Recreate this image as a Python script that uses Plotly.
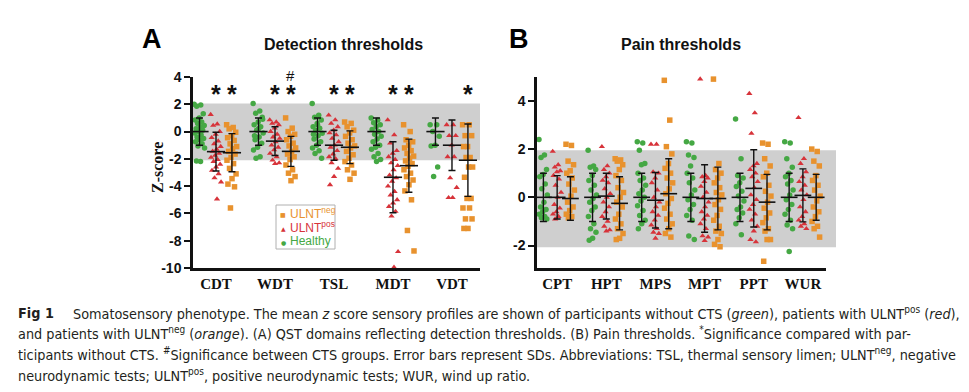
import plotly.graph_objects as go

# ---------------- DATA ----------------
cats_a = ["CDT", "WDT", "TSL", "MDT", "VDT"]
cats_b = ["CPT", "HPT", "MPS", "MPT", "PPT", "WUR"]

# Panel A (detection thresholds) z-scores per group
a_healthy = {
    "CDT": [2.0, 1.95, 1.85, 1.3, 1.0, 0.85, 0.7, 0.6, 0.45, 0.35, 0.2, 0.1, 0.0, -0.1, -0.25, -0.4, -0.5, -0.6, -0.75, -0.9, -1.05, -1.2, -2.2, -2.15],
    "WDT": [2.05, 1.5, 1.35, 1.05, 0.7, 0.5, 0.35, 0.1, -0.1, -0.4, -0.6, -0.85, -1.15, -1.35, -1.85, -1.95, 0.9, 0.2, -0.3],
    "TSL": [2.05, 1.2, 1.05, 0.85, 0.6, 0.35, 0.25, 0.07, -0.12, -0.3, -0.55, -0.75, -1.0, -1.2, -1.4, -1.6, -1.95, 0.5, -0.2],
    "MDT": [1.0, 0.85, 0.65, 0.5, 0.35, 0.15, 0.0, -0.2, -0.35, -0.55, -0.75, -1.0, -1.15, -1.3, -1.6, -1.85, -2.05, -2.2],
    "VDT": [0.5, 0.5, 0.0, -0.35, -1.0, -1.05, -2.6, -3.3],
}
a_pos = {
    "CDT": [1.25, 0.55, 0.45, 0.0, -0.2, -0.45, -0.7, -0.9, -1.1, -1.3, -1.45, -1.6, -1.75, -1.9, -2.05, -2.2, -2.4, -2.6, -2.85, -3.1, -3.4, -3.7, -4.95],
    "WDT": [0.85, 0.7, 0.6, 0.5, 0.25, 0.0, -0.2, -0.4, -0.5, -0.75, -1.0, -1.15, -1.35, -1.6, -1.85, -2.1, -2.3, -2.35],
    "TSL": [1.2, 0.85, 0.6, 0.35, 0.1, -0.1, -0.25, -0.5, -0.75, -1.0, -1.15, -1.4, -1.65, -1.85, -2.0, -2.3, -2.7, -3.3, -3.9],
    "MDT": [0.85, -0.25, -0.85, -1.4, -1.6, -1.85, -2.05, -2.3, -2.5, -2.8, -3.2, -3.4, -3.65, -4.0, -4.4, -4.65, -5.0, -5.25, -5.5, -5.85, -6.2, -8.8, -9.95],
    "VDT": [0.5, 0.5, -0.3, -0.3, -1.0, -1.85, -1.85, -3.4, -4.1, -4.85, -4.85],
}
a_neg = {
    "CDT": [0.5, 0.3, 0.2, -0.05, -0.3, -0.45, -0.65, -0.9, -1.1, -1.25, -1.45, -1.65, -1.9, -2.1, -2.35, -2.7, -3.1, -3.45, -3.85, -4.05, -5.6],
    "WDT": [1.0, 0.25, 0.0, -0.2, -0.35, -0.6, -0.85, -1.05, -1.2, -1.45, -1.65, -1.85, -2.05, -2.45, -2.8, -3.05, -3.3, -3.6],
    "TSL": [0.7, 0.6, 0.35, 0.1, -0.1, -0.35, -0.6, -0.85, -1.05, -1.2, -1.45, -1.7, -1.95, -2.2, -2.45, -2.8, -3.05, -3.5],
    "MDT": [0.5, 0.0, -0.6, -0.75, -1.0, -1.2, -1.4, -1.6, -1.8, -1.95, -2.15, -2.35, -2.55, -2.8, -3.05, -3.3, -3.55, -3.9, -4.35, -5.0, -7.25, -8.75],
    "VDT": [0.5, 0.5, -0.3, -0.3, -1.1, -1.1, -1.9, -1.9, -2.6, -2.6, -3.35, -4.9, -4.9, -5.6, -5.6, -6.4, -6.4, -7.1, -7.1],
}
# group means and SDs
a_mean = {"healthy": [0, 0, 0, 0, 0], "pos": [-1.47, -0.7, -1.0, -3.35, -1.0], "neg": [-1.55, -1.45, -1.15, -2.5, -2.1]}
a_sd = {"healthy": [1, 1, 1, 1, 1], "pos": [1.42, 1.05, 1.1, 2.6, 1.85], "neg": [1.4, 1.1, 1.2, 1.95, 2.65]}

# Panel B (pain thresholds)
b_healthy = {
    "CPT": [2.4, 1.75, 1.65, 1.15, 0.95, 0.85, 0.55, 0.35, 0.1, -0.2, -0.4, -0.5, -0.6, -0.7, -0.8, -0.85, -0.9],
    "HPT": [1.95, 1.3, 1.25, 1.15, 0.9, 0.7, 0.5, 0.3, 0.1, -0.05, -0.2, -0.4, -0.55, -0.8, -1.1, -1.3, -1.45, -1.7, -1.78],
    "MPS": [2.3, 2.25, 1.95, 1.4, 1.35, 1.0, 0.8, 0.7, 0.5, 0.3, 0.15, 0.0, -0.15, -0.35, -0.55, -0.75, -0.95, -1.1, -1.3],
    "MPT": [2.3, 2.25, 1.75, 1.65, 1.3, 1.0, 0.8, 0.6, 0.3, 0.1, -0.1, -0.3, -0.5, -0.75, -0.95, -1.6, -1.75],
    "PPT": [3.25, 1.6, 0.9, 0.8, 0.6, 0.45, 0.25, 0.05, -0.15, -0.4, -0.5, -0.65, -0.85, -1.1, -1.55],
    "WUR": [2.3, 2.25, 1.6, 1.25, 1.0, 0.85, 0.7, 0.55, 0.3, 0.1, -0.1, -0.3, -0.5, -0.7, -0.95, -1.15, -1.3, -2.25],
}
b_pos = {
    "CPT": [1.9, 1.35, 1.25, 1.1, 1.05, 0.9, 0.75, 0.5, 0.2, 0.0, -0.3, -0.45, -0.6, -0.7, -0.8, -0.9],
    "HPT": [2.1, 1.3, 1.15, 1.0, 0.85, 0.7, 0.6, 0.35, 0.15, 0.0, -0.2, -0.4, -0.6, -0.8, -1.0, -1.2, -1.35, -1.4],
    "MPS": [2.2, 2.2, 1.05, 1.0, 0.8, 0.6, 0.3, 0.0, -0.2, -0.4, -0.6, -0.75, -0.95, -1.15, -1.3, -1.45, -1.5, -1.7],
    "MPT": [4.9, 0.9, 0.85, 0.8, 0.65, 0.45, 0.2, 0.0, -0.2, -0.4, -0.6, -0.75, -0.9, -1.1, -1.3, -1.6, -1.65, -1.8],
    "PPT": [4.3, 3.5, 2.65, 1.4, 1.3, 1.15, 1.0, 0.85, 0.65, 0.4, 0.1, -0.1, -0.3, -0.5, -0.7, -0.95, -1.2, -1.4, -1.75, -1.85],
    "WUR": [3.3, 1.6, 1.4, 1.05, 0.85, 0.65, 0.5, 0.3, 0.1, -0.1, -0.4, -0.6, -0.8, -0.95, -1.1, -1.2, -1.3],
}
b_neg = {
    "CPT": [2.2, 2.15, 1.5, 1.35, 1.1, 1.0, 0.8, 0.55, 0.3, 0.05, -0.2, -0.4, -0.55, -0.7, -0.8, -0.85],
    "HPT": [1.6, 1.55, 1.5, 1.35, 1.15, 0.9, 0.7, 0.4, 0.2, 0.0, -0.2, -0.4, -0.7, -0.9, -1.1, -1.3, -1.5, -1.7, -1.75],
    "MPS": [4.85, 3.2, 2.1, 1.8, 1.4, 1.2, 1.0, 0.8, 0.6, 0.35, 0.15, -0.05, -0.25, -0.45, -0.7, -0.9, -1.1, -1.3, -1.5, -1.65],
    "MPT": [4.9, 1.4, 1.15, 1.0, 0.8, 0.6, 0.4, 0.2, 0.1, -0.1, -0.3, -0.5, -0.75, -0.95, -1.2, -1.4, -1.5, -1.75, -1.95, -2.05],
    "PPT": [2.25, 2.2, 1.6, 1.3, 1.0, 0.85, 0.5, 0.25, 0.05, -0.2, -0.45, -0.65, -0.85, -1.05, -1.3, -1.4, -1.75, -1.75, -2.65],
    "WUR": [2.0, 1.9, 1.5, 1.3, 0.9, 0.7, 0.5, 0.3, 0.05, -0.15, -0.4, -0.6, -0.8, -1.0, -1.2, -1.3, -1.65],
}
b_mean = {"healthy": [0, 0, 0, 0, 0, 0], "pos": [0.0, 0.05, -0.12, -0.05, 0.37, 0.08], "neg": [-0.05, -0.25, 0.15, -0.05, -0.2, 0.0]}
b_sd = {"healthy": [1, 1, 1, 1, 1, 1], "pos": [0.9, 0.95, 1.15, 1.4, 1.6, 1.1], "neg": [0.9, 1.1, 1.45, 1.3, 1.15, 0.95]}

# significance markers: (category, group, symbol)
sig_a = [("CDT", "pos", "*"), ("CDT", "neg", "*"), ("WDT", "pos", "*"), ("WDT", "neg", "*"),
         ("TSL", "pos", "*"), ("TSL", "neg", "*"), ("MDT", "pos", "*"), ("MDT", "neg", "*"),
         ("VDT", "neg", "*")]
hash_a = [("WDT", "neg", "#")]

# ---------------- STYLE ----------------
GREEN, RED, ORANGE = "#45a844", "#d7333a", "#e8922e"
colors = {"healthy": GREEN, "pos": RED, "neg": ORANGE}
symbols = {"healthy": "circle", "pos": "triangle-up", "neg": "square"}
offset = {"healthy": -0.28, "pos": 0.0, "neg": 0.27}
W, H = 969, 392

def jitter(n, amp):
    return [amp * (((i * 0.618034) % 1.0) * 2 - 1) for i in range(n)]

fig = go.Figure()

def add_panel(cats, groups, means, sds, xa, ya, amp, msize, mean_size):
    for g, data in groups:
        xs, ys = [], []
        for ci, c in enumerate(cats):
            vals = data[c]
            js = jitter(len(vals), amp)
            xs += [ci + offset[g] + j for j in js]
            ys += vals
        fig.add_trace(go.Scatter(x=xs, y=ys, mode="markers", xaxis=xa, yaxis=ya,
                                 marker=dict(symbol=symbols[g], color=colors[g], size=msize, line=dict(width=0)),
                                 showlegend=False, cliponaxis=False, hoverinfo="skip"))
    for g, _ in groups:
        fig.add_trace(go.Scatter(
            x=[ci + offset[g] for ci in range(len(cats))], y=means[g], mode="markers",
            xaxis=xa, yaxis=ya, showlegend=False, hoverinfo="skip", cliponaxis=False,
            marker=dict(symbol="line-ew", size=mean_size, line=dict(width=1.6, color="#111")),
            error_y=dict(type="data", array=sds[g], visible=True, color="#111", thickness=1.4, width=3.5)))

add_panel(cats_a, [("healthy", a_healthy), ("pos", a_pos), ("neg", a_neg)], a_mean, a_sd, "x", "y", 0.09, 5.5, 13)
add_panel(cats_b, [("healthy", b_healthy), ("pos", b_pos), ("neg", b_neg)], b_mean, b_sd, "x2", "y2", 0.09, 5.5, 12)

def pa(px, py, text, font, **kw):
    d = dict(x=px / W, y=1 - py / H, xref="paper", yref="paper", text=text, showarrow=False,
             xanchor="center", yanchor="middle", font=font)
    d.update(kw)
    return d

ann = []
for c, g, s in sig_a:
    ann.append(dict(x=cats_a.index(c) + offset[g], y=3.0, xref="x", yref="y", text="<b>%s</b>" % s, showarrow=False,
                    xanchor="center", yanchor="middle",
                    font=dict(family="Arial, Liberation Sans", size=25, color="#111"), yshift=-3))
for c, g, s in hash_a:
    ann.append(dict(x=cats_a.index(c) + offset[g], y=4.0, xref="x", yref="y", text=s, showarrow=False,
                    xanchor="center", yanchor="middle", yshift=1,
                    font=dict(family="Arial, Liberation Sans", size=15, color="#111")))

# panel titles
ann += [
    pa(152, 39, "<b>A</b>", dict(family="Arial, Liberation Sans", size=27, color="#000")),
    pa(343, 44, "<b>Detection thresholds</b>", dict(family="Arial, Liberation Sans", size=16, color="#111")),
    pa(519, 39, "<b>B</b>", dict(family="Arial, Liberation Sans", size=27, color="#000")),
    pa(681, 44, "<b>Pain thresholds</b>", dict(family="Arial, Liberation Sans", size=16, color="#111")),
    pa(157, 168, "<b>Z-score</b>", dict(family="Liberation Serif, Times New Roman", size=16, color="#111"), textangle=-90),
]

# legend box (panel A)
legend_rows = [("■", "ULNT<sup>neg</sup>", ORANGE, 213), ("▲", "ULNT<sup>pos</sup>", RED, 227), ("●", "Healthy", GREEN, 241)]
for glyph, label, col, py in legend_rows:
    ann.append(pa(283, py + 1, glyph, dict(size=6, color=col, family="DejaVu Sans")))
    ann.append(pa(288, py, label, dict(size=12, color=col, family="Arial, Liberation Sans"), xanchor="left"))

# caption
cap_font = dict(family="Liberation Sans Narrow, Arial Narrow, DejaVu Sans Condensed, sans-serif", size=14.3, color="#231f20")
cap_lines = [
    (71, 313, "Somatosensory phenotype. The mean <i>z</i> score sensory profiles are shown of participants without CTS (<i>green</i>), patients with ULNT<sup>pos</sup> (<i>red</i>),"),
    (16, 333, "and patients with ULNT<sup>neg</sup> (<i>orange</i>). (A) QST domains reflecting detection thresholds. (B) Pain thresholds. <sup>*</sup>Significance compared with par-"),
    (16, 354, "ticipants without CTS. <sup>#</sup>Significance between CTS groups. Error bars represent SDs. Abbreviations: TSL, thermal sensory limen; ULNT<sup>neg</sup>, negative"),
    (16, 375, "neurodynamic tests; ULNT<sup>pos</sup>, positive neurodynamic tests; WUR, wind up ratio."),
]
ann.append(pa(16, 313, "<b>Fig 1</b>", cap_font, xanchor="left"))
for px, py, t in cap_lines:
    ann.append(pa(px, py, t, cap_font, xanchor="left"))

shapes = [
    dict(type="rect", xref="paper", yref="y", x0=193 / W, x1=480 / W, y0=-2.1, y1=2.05,
         fillcolor="#cfcfcf", line=dict(width=0), layer="below"),
    dict(type="rect", xref="paper", yref="y2", x0=537 / W, x1=836 / W, y0=-2.07, y1=1.95,
         fillcolor="#cfcfcf", line=dict(width=0), layer="below"),
    dict(type="rect", xref="paper", yref="paper", x0=276 / W, x1=335 / W, y0=1 - 249 / H, y1=1 - 205 / H,
         fillcolor="white", line=dict(width=1, color="#b0b0b0"), layer="above"),
]

tickfont_y = dict(family="Arial, Liberation Sans", size=14, color="#111")
tickfont_x = dict(family="Liberation Serif, Times New Roman", size=15, color="#111")
axis_common = dict(showline=True, linecolor="#111", linewidth=2.5, showgrid=False, zeroline=False, automargin=False)

fig.update_layout(
    width=W, height=H, margin=dict(l=0, r=0, t=0, b=0),
    paper_bgcolor="white", plot_bgcolor="rgba(0,0,0,0)",
    showlegend=False,
    xaxis=dict(domain=[193 / W, 480 / W], range=[-0.39, 4.475], tickvals=list(range(5)),
               ticktext=["<b>%s</b>" % c for c in cats_a], ticks="", tickfont=tickfont_x, anchor="y", **axis_common),
    yaxis=dict(domain=[1 - 268 / H, 1 - 77 / H], range=[-10, 4], tickvals=[4, 2, 0, -2, -4, -6, -8, -10],
               ticktext=["<b>%d</b>" % v for v in [4, 2, 0, -2, -4, -6, -8, -10]],
               ticks="outside", ticklen=6, tickwidth=2, tickcolor="#111", tickfont=tickfont_y, anchor="x", **axis_common),
    xaxis2=dict(domain=[537 / W, 826 / W], range=[-0.41, 5.47], tickvals=list(range(6)),
                ticktext=["<b>%s</b>" % c for c in cats_b], ticks="", tickfont=tickfont_x, anchor="y2", **axis_common),
    yaxis2=dict(domain=[1 - 268 / H, 1 - 76.7 / H], range=[-2.93, 5.0], tickvals=[4, 2, 0, -2],
                ticktext=["<b>%d</b>" % v for v in [4, 2, 0, -2]],
                ticks="outside", ticklen=6, tickwidth=2, tickcolor="#111", tickfont=tickfont_y, anchor="x2", **axis_common),
    annotations=ann, shapes=shapes,
)

fig.write_html("out.html", config={"displayModeBar": False},
               post_script="document.body.style.margin='0';document.body.style.overflow='hidden';")
